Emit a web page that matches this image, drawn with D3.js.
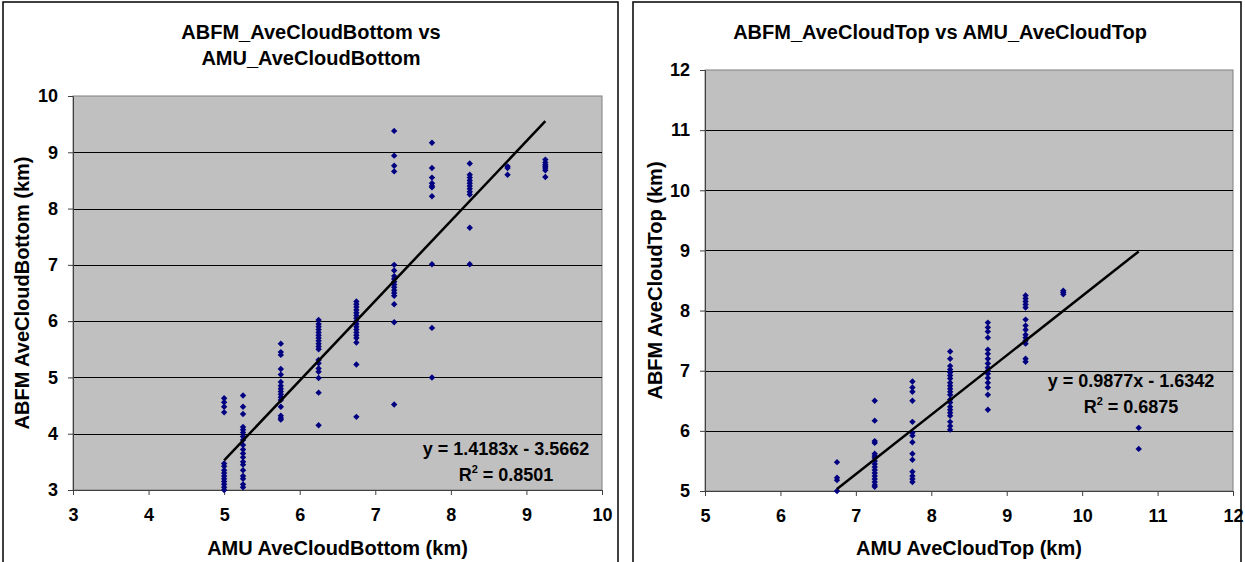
<!DOCTYPE html>
<html>
<head>
<meta charset="utf-8">
<script src="https://cdn.jsdelivr.net/npm/d3@7"></script>
<style>
  body { margin: 0; background: #fff; }
  svg { display: block; font-family: "Liberation Sans", Arial, sans-serif; font-weight: bold; }
</style>
</head>
<body>
<script>
// cloud bottom: AMU x columns and ABFM values in each column
const bottomX = [5, 5.25, 5.75, 6.25, 6.75, 7.25, 7.75, 8.25, 8.75, 9.25];
const bottomY = [
  [4.63, 4.56, 4.48, 4.38, 3.47, 3.42, 3.35, 3.3, 3.25, 3.2, 3.15, 3.1, 3.05, 3.0],
  [4.68, 4.48, 4.35, 4.12, 4.07, 4.02, 3.95, 3.89, 3.8, 3.72, 3.65, 3.58, 3.5, 3.45, 3.35, 3.25, 3.2, 3.1, 3.05],
  [5.6, 5.45, 5.4, 5.15, 5.05, 4.92, 4.85, 4.8, 4.75, 4.7, 4.65, 4.6, 4.48, 4.32, 4.28, 4.25],
  [6.02, 5.95, 5.9, 5.85, 5.8, 5.75, 5.7, 5.65, 5.6, 5.55, 5.5, 5.31, 5.25, 5.16, 5.1, 4.99, 4.73, 4.15],
  [6.35, 6.3, 6.25, 6.2, 6.15, 6.1, 6.05, 6.0, 5.95, 5.9, 5.85, 5.8, 5.75, 5.7, 5.62, 5.23, 4.3],
  [9.38, 8.94, 8.76, 8.66, 7.0, 6.9, 6.8, 6.75, 6.7, 6.65, 6.6, 6.55, 6.5, 6.45, 6.3, 5.98, 4.52],
  [9.17, 8.72, 8.55, 8.45, 8.4, 8.38, 8.22, 7.01, 5.88, 5.0],
  [8.8, 8.6, 8.55, 8.5, 8.45, 8.4, 8.35, 8.3, 8.25, 7.66, 7.01],
  [8.75, 8.72, 8.6],
  [8.87, 8.82, 8.78, 8.75, 8.72, 8.68, 8.56]
];
const bottomFit = { slope: 1.4183, icept: -3.5662, r2: "0.8501" };

// cloud top
const topX = [6.75, 7.25, 7.75, 8.25, 8.75, 9.25, 9.75, 10.75];
const topY = [
  [5.48, 5.22, 5.18, 5.0],
  [6.5, 6.17, 5.83, 5.8, 5.62, 5.58, 5.55, 5.5, 5.45, 5.4, 5.35, 5.3, 5.25, 5.2, 5.15, 5.1, 5.07],
  [6.82, 6.72, 6.65, 6.5, 6.15, 5.97, 5.92, 5.81, 5.62, 5.52, 5.32, 5.25, 5.2, 5.15],
  [7.32, 7.2, 7.08, 7.02, 6.97, 6.92, 6.87, 6.8, 6.75, 6.7, 6.65, 6.6, 6.52, 6.47, 6.4, 6.35, 6.3, 6.25, 6.15, 6.08, 6.02],
  [7.8, 7.72, 7.65, 7.55, 7.35, 7.28, 7.2, 7.12, 7.05, 7.0, 6.95, 6.88, 6.8, 6.72, 6.6, 6.35],
  [8.25, 8.2, 8.15, 8.1, 8.05, 7.85, 7.75, 7.68, 7.6, 7.55, 7.5, 7.45, 7.2, 7.15],
  [8.33, 8.3, 8.27],
  [6.05, 5.7]
];
const topFit = { slope: 0.9877, icept: -1.6342, r2: "0.6875" };

const W = 1245, H = 562;
const svg = d3.select("body").append("svg").attr("width", W).attr("height", H);

const drawChart = (opt) => {
  const g = svg.append("g");
  // outer chart frame
  g.append("rect")
    .attr("x", opt.box[0]).attr("y", opt.box[1])
    .attr("width", opt.box[2]).attr("height", opt.box[3])
    .attr("fill", "#fff").attr("stroke", "#000").attr("stroke-width", 1.5);

  const x = d3.scaleLinear().domain(opt.xDom).range([opt.plot.l, opt.plot.r]);
  const y = d3.scaleLinear().domain(opt.yDom).range([opt.plot.b, opt.plot.t]);

  g.append("rect")
    .attr("x", opt.plot.l).attr("y", opt.plot.t)
    .attr("width", opt.plot.r - opt.plot.l).attr("height", opt.plot.b - opt.plot.t)
    .attr("fill", "#c0c0c0").attr("stroke", "#808080").attr("stroke-width", 1);

  // horizontal gridlines
  g.append("g").selectAll("line")
    .data(d3.range(opt.yDom[0] + 1, opt.yDom[1]))
    .join("line")
    .attr("x1", opt.plot.l).attr("x2", opt.plot.r)
    .attr("y1", (d) => Math.round(y(d)) + 0.5).attr("y2", (d) => Math.round(y(d)) + 0.5)
    .attr("stroke", "#000").attr("stroke-width", 1);

  const xAxis = g.append("g")
    .attr("transform", "translate(0," + opt.plot.b + ")")
    .call(d3.axisBottom(x).ticks(opt.xDom[1] - opt.xDom[0]).tickSize(5).tickPadding(13).tickFormat(d3.format("d")));
  const yAxis = g.append("g")
    .attr("transform", "translate(" + opt.plot.l + ",0)")
    .call(d3.axisLeft(y).ticks(opt.yDom[1] - opt.yDom[0]).tickSize(5).tickPadding(10).tickFormat(d3.format("d")));
  [xAxis, yAxis].forEach((a) => {
    a.select(".domain").attr("stroke", "#404040");
    a.selectAll(".tick line").attr("stroke", "#404040");
    a.selectAll("text")
      .attr("fill", "#000")
      .style("font-size", "18px")
      .style("font-weight", "bold")
      .style("font-family", "'Liberation Sans', Arial, sans-serif");
  });

  // points
  const pts = [];
  opt.xs.forEach((xv, i) => opt.ys[i].forEach((yv) => pts.push([xv, yv])));
  g.append("g").selectAll("path")
    .data(pts)
    .join("path")
    .attr("d", "M0,-3.2L3.2,0L0,3.2L-3.2,0Z")
    .attr("transform", (d) => "translate(" + x(d[0]) + "," + y(d[1]) + ")")
    .attr("fill", "#000080");

  // linear trend line across the data range
  const ext = d3.extent(opt.xs);
  const fit = (v) => opt.fit.slope * v + opt.fit.icept;
  g.append("line")
    .attr("x1", x(ext[0])).attr("y1", y(fit(ext[0])))
    .attr("x2", x(ext[1])).attr("y2", y(fit(ext[1])))
    .attr("stroke", "#000").attr("stroke-width", 2.5);

  // equation label
  g.append("text")
    .attr("text-anchor", "middle")
    .style("font-size", "18px")
    .attr("x", opt.eqPos[0]).attr("y", opt.eqPos[1])
    .text("y = " + opt.fit.slope + "x - " + Math.abs(opt.fit.icept).toFixed(4));
  const r = g.append("text")
    .attr("text-anchor", "middle")
    .style("font-size", "18px")
    .attr("x", opt.eqPos[0]).attr("y", opt.eqPos[1] + 26);
  r.append("tspan").text("R");
  r.append("tspan").text("2").attr("dy", -8).style("font-size", "11px");
  r.append("tspan").text(" = " + opt.fit.r2).attr("dy", 8);

  // titles
  const t = g.append("text").attr("text-anchor", "middle").style("font-size", "20px");
  opt.title.forEach((line, i) => {
    t.append("tspan").attr("x", opt.titlePos[0]).attr("y", opt.titlePos[1] + i * 26).text(line);
  });
  g.append("text")
    .attr("text-anchor", "middle").style("font-size", "20px")
    .attr("x", (opt.plot.l + opt.plot.r) / 2).attr("y", 555)
    .text(opt.xLabel);
  g.append("text")
    .attr("text-anchor", "middle").style("font-size", "20px")
    .attr("transform", "translate(" + opt.yLabX + "," + (opt.plot.t + opt.plot.b) / 2 + ") rotate(-90)")
    .text(opt.yLabel);
};

drawChart({
  box: [3, 2, 615, 580],
  plot: { l: 73, r: 602, t: 96, b: 490 },
  xDom: [3, 10], yDom: [3, 10],
  xs: bottomX, ys: bottomY, fit: bottomFit,
  eqPos: [506, 455],
  title: ["ABFM_AveCloudBottom vs", "AMU_AveCloudBottom"],
  titlePos: [311, 39],
  xLabel: "AMU AveCloudBottom (km)",
  yLabel: "ABFM AveCloudBottom (km)", yLabX: 29
});

drawChart({
  box: [633, 2, 608, 580],
  plot: { l: 705, r: 1233, t: 70, b: 491 },
  xDom: [5, 12], yDom: [5, 12],
  xs: topX, ys: topY, fit: topFit,
  eqPos: [1131, 387],
  title: ["ABFM_AveCloudTop vs AMU_AveCloudTop"],
  titlePos: [940, 39],
  xLabel: "AMU AveCloudTop (km)",
  yLabel: "ABFM AveCloudTop (km)", yLabX: 662
});
</script>
</body>
</html>
